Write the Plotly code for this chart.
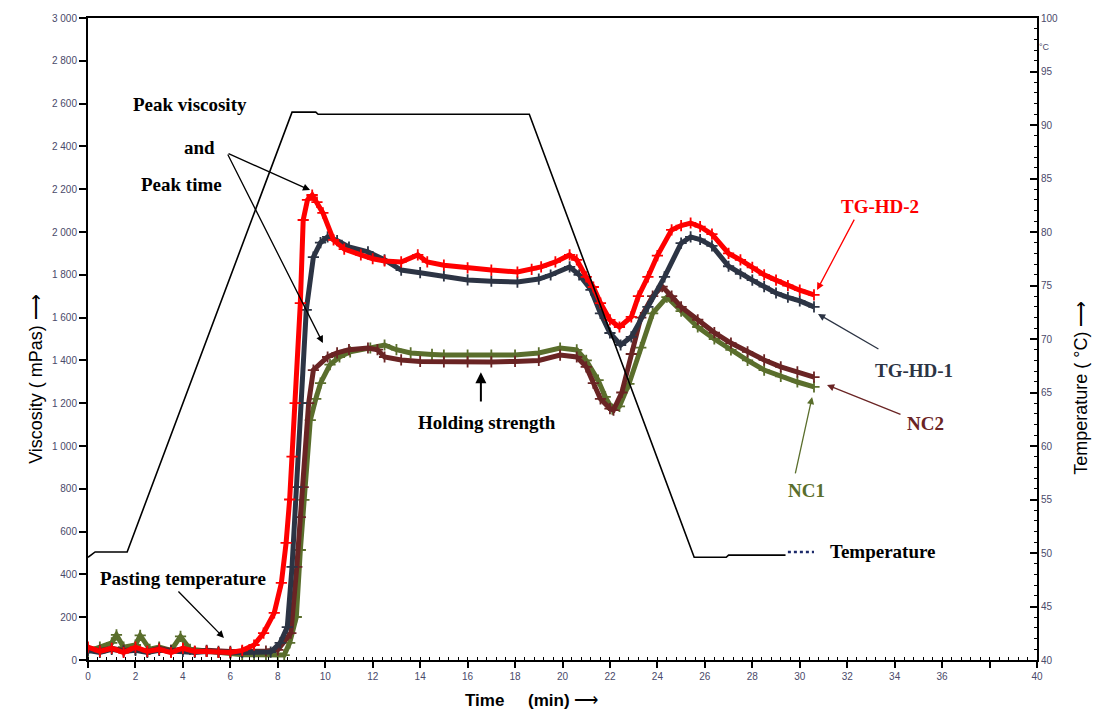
import plotly.graph_objects as go

# ---------------- data ----------------
t_hd2 = [0, 0.5, 1, 1.5, 2, 2.5, 3, 3.5, 4, 4.5, 5, 5.5, 6, 6.5, 7, 7.4, 7.85, 8.15, 8.35,
         8.5, 8.6, 8.73, 8.95, 9.07, 9.25, 9.45, 9.65, 9.9, 10.35, 10.8, 11.5, 12, 12.5,
         13.2, 13.9, 14.3, 15, 16, 17, 18.1, 18.7, 19.1, 19.7, 20.3, 20.6, 21, 21.3, 21.6,
         22, 22.4, 22.9, 23.2, 23.6, 24, 24.6, 25, 25.4, 25.8, 26.3, 27, 27.5, 28, 28.5,
         29, 29.5, 30, 30.6]
v_hd2 = [60, 40, 55, 35, 60, 40, 50, 35, 55, 40, 40, 35, 35, 45, 70, 126, 220, 360, 547,
         750, 950, 1200, 1668, 2056, 2150, 2173, 2140, 2089, 1963, 1920, 1893, 1875, 1865,
         1860, 1893, 1860, 1845, 1832, 1822, 1813, 1825, 1837, 1860, 1893, 1870, 1790, 1743, 1668,
         1589, 1556, 1603, 1700, 1790, 1890, 2010, 2030, 2042, 2025, 1990, 1900, 1870, 1835, 1800,
         1775, 1750, 1728, 1706]

t_hd1 = [0, 0.5, 1, 1.5, 2, 2.5, 3, 3.5, 4, 4.5, 5, 5.5, 6, 6.5, 7, 7.7, 8.1, 8.4, 8.6,
         8.8, 9.0, 9.2, 9.5, 9.8, 10.1, 10.5, 11, 11.8, 12.5, 13.2, 14, 15, 16, 17, 18.1,
         19, 19.5, 20.3, 20.7, 21.2, 21.6, 22, 22.45, 22.9, 23.6, 24.3, 25, 25.4, 25.8,
         26.3, 27, 27.5, 28, 28.5, 29, 29.5, 30, 30.6]
v_hd1 = [45, 35, 50, 40, 45, 35, 45, 40, 40, 35, 40, 35, 35, 35, 35, 37, 80, 154, 435,
         808, 1200, 1636, 1883, 1950, 1977, 1960, 1930, 1907, 1870, 1822, 1810, 1795, 1776, 1770, 1766,
         1780, 1799, 1837, 1800, 1730, 1620, 1528, 1472, 1510, 1650, 1790, 1948, 1977, 1965,
         1935, 1840, 1805, 1775, 1745, 1715, 1695, 1678, 1650]

t_nc2 = [0, 0.5, 1, 1.5, 2, 2.5, 3, 3.5, 4, 4.5, 5, 5.5, 6, 6.5, 7, 7.5, 8.0, 8.55, 8.8,
         8.95, 9.07, 9.3, 9.5, 10.1, 10.5, 11, 11.8, 12.2, 12.5, 13.2, 14, 15, 16, 17, 18,
         19, 19.9, 20.6, 21, 21.3, 21.6, 22, 22.15, 22.5, 22.9, 23.3, 23.8, 24.2, 24.6, 25,
         25.7, 26.4, 27.1, 27.8, 28.5, 29.2, 29.9, 30.6]
v_nc2 = [50, 45, 55, 45, 50, 40, 55, 45, 50, 40, 45, 40, 40, 40, 40, 42, 47, 126, 435,
         668, 808, 1200, 1355, 1416, 1435, 1450, 1458, 1450, 1416, 1402, 1395, 1393, 1393, 1393, 1395,
         1400, 1425, 1416, 1370, 1294, 1220, 1175, 1168, 1250, 1430, 1600, 1700, 1745, 1700, 1650,
         1590, 1530, 1481, 1440, 1402, 1370, 1346, 1322]

t_nc1 = [0, 0.5, 1, 1.2, 1.5, 2, 2.2, 2.6, 3, 3.5, 3.9, 4.3, 5, 5.5, 6, 6.5, 7, 7.5, 8,
         8.27, 8.5, 8.78, 8.95, 9.1, 9.37, 9.6, 9.8, 10.2, 10.6, 11.05, 11.9, 12.5, 13,
         13.6, 14.5, 15, 16, 17, 18, 19, 19.9, 20.6, 21, 21.5, 21.8, 22.1, 22.4, 22.8,
         23.3, 23.8, 24.4, 25, 25.7, 26.4, 27.1, 27.8, 28.5, 29.2, 29.9, 30.6]
v_nc1 = [40, 60, 80, 117, 60, 70, 115, 50, 60, 45, 110, 50, 40, 35, 30, 25, 25, 25, 25,
         23, 80, 201, 514, 748, 1121, 1220, 1294, 1380, 1416, 1440, 1458, 1472, 1450,
         1435, 1428, 1425, 1425, 1425, 1425, 1435, 1458, 1449, 1400, 1308, 1230, 1172, 1185, 1290,
         1460, 1620, 1696, 1630, 1556, 1500, 1449, 1400, 1355, 1325, 1299, 1276]

t_temp = [0, 0.3, 1.65, 8.6, 9.6, 9.7, 18.6, 25.55, 26.9, 27.0, 29.4]
v_temp = [49.6, 50.1, 50.1, 91.2, 91.2, 91.0, 91.0, 49.6, 49.6, 49.8, 49.8]

visc_ticks = list(range(0, 3001, 200))
visc_ticktext = ["0", "200", "400", "600", "800", "1 000", "1 200", "1 400", "1 600",
                 "1 800", "2 000", "2 200", "2 400", "2 600", "2 800", "3 000"]
temp_ticks = list(range(40, 101, 5))
time_ticks = list(range(0, 41, 2))
time_ticktext = [str(v) if v != 38 else "" for v in time_ticks]

# ---------------- styles ----------------
C_RED = "#ff0000"
C_NAVY = "#2c3444"
C_BROWN = "#6a2424"
C_GREEN = "#5a6e2c"
SERIF = "Liberation Serif"
SANS = "Liberation Sans"
TICKFONT = dict(family=SANS, size=10, color="#4a4a6a")
LBL = 19

fig = go.Figure()


def add_series(t, v, color):
    fig.add_trace(go.Scatter(
        x=t, y=v, mode="lines+markers",
        line=dict(color=color, width=5),
        marker=dict(symbol="cross-thin", size=8, color=color,
                    line=dict(color=color, width=1.8)),
        showlegend=False, hoverinfo="skip"))


add_series(t_nc1, v_nc1, C_GREEN)
add_series(t_nc2, v_nc2, C_BROWN)
add_series(t_hd1, v_hd1, C_NAVY)
add_series(t_hd2, v_hd2, C_RED)

fig.add_trace(go.Scatter(x=t_temp, y=v_temp, yaxis="y2", mode="lines",
                         line=dict(color="black", width=1.6),
                         showlegend=False, hoverinfo="skip"))
# legend sample for temperature
fig.add_trace(go.Scatter(x=[29.5, 30.6], y=[50.1, 50.1], yaxis="y2", mode="lines",
                         line=dict(color="#1c2a6a", width=2.5, dash="dot"),
                         showlegend=False, hoverinfo="skip"))

fig.update_layout(
    width=1108, height=714,
    margin=dict(l=88, r=71, t=18, b=54),
    paper_bgcolor="white", plot_bgcolor="white",
    xaxis=dict(range=[0, 40], tickvals=time_ticks, ticktext=time_ticktext,
               ticks="outside", ticklen=6, tickwidth=2, tickcolor="black",
               minor=dict(dtick=0.4, ticks="inside", ticklen=3, tickwidth=1.2, tickcolor="black"),
               showline=True, linewidth=2, linecolor="black", mirror=True,
               showgrid=False, zeroline=False, tickfont=TICKFONT),
    xaxis3=dict(range=[0, 40], overlaying="x", tickvals=time_ticks, ticktext=[""] * len(time_ticks),
                ticks="inside", ticklen=6, tickwidth=2, tickcolor="black",
                showline=False, showgrid=False, zeroline=False, anchor="y"),
    yaxis=dict(range=[0, 3000], tickvals=visc_ticks, ticktext=visc_ticktext,
               ticks="outside", ticklen=7, tickwidth=2, tickcolor="black",
               showline=True, linewidth=2, linecolor="black",
               showgrid=False, zeroline=False, tickfont=TICKFONT),
    yaxis3=dict(range=[0, 3000], overlaying="y", side="left", anchor="x",
                tickvals=visc_ticks, ticktext=[""] * len(visc_ticks),
                ticks="inside", ticklen=7, tickwidth=2, tickcolor="black",
                showline=False, showgrid=False, zeroline=False),
    yaxis2=dict(range=[40, 100], overlaying="y", side="right", anchor="x",
                tickvals=temp_ticks, ticks="inside", ticklen=7, tickwidth=2, tickcolor="black",
                minor=dict(dtick=1, ticks="inside", ticklen=3, tickwidth=1.2, tickcolor="black"),
                showline=True, linewidth=2, linecolor="black",
                showgrid=False, zeroline=False, tickfont=TICKFONT),
)

ann = []


def text(x, y, s, color="black", size=LBL, bold=True, family=SERIF, xref="x", yref="y"):
    ann.append(dict(x=x, y=y, xref=xref, yref=yref, text=("<b>%s</b>" % s) if bold else s,
                    showarrow=False, font=dict(family=family, size=size, color=color)))


def arrow(x0, y0, x1, y1, color="black", width=1.3):
    ann.append(dict(x=x1, y=y1, ax=x0, ay=y0, xref="x", yref="y", axref="x", ayref="y",
                    text="", showarrow=True, arrowhead=2, arrowsize=1.1,
                    arrowwidth=width, arrowcolor=color))


text(4.3, 2598, "Peak viscosity")
text(4.72, 2397, "and")
text(3.96, 2220, "Peak time")
arrow(5.86, 2369, 9.36, 2196)
arrow(5.86, 2369, 9.9, 1481)

text(4.0, 383, "Pasting temperature")
arrow(3.75, 327, 5.73, 103)

text(16.8, 1112, "Holding strength")
arrow(16.56, 1201, 16.56, 1345, width=2)

text(33.4, 2117, "TG-HD-2", color=C_RED)
arrow(32.33, 2065, 30.73, 1729, color=C_RED)
text(34.8, 1355, "TG-HD-1", color=C_NAVY)
arrow(33.38, 1449, 30.77, 1617, color=C_NAVY)
text(35.3, 1107, "NC2", color=C_BROWN)
arrow(34.31, 1145, 31.15, 1285, color=C_BROWN)
text(30.3, 794, "NC1", color=C_GREEN)
arrow(29.8, 865, 30.52, 1229, color=C_GREEN)
text(33.5, 509, "Temperature")

# axis titles
ann.append(dict(x=-0.0674, y=0.438, xref="paper", yref="paper", text="Viscosity ( mPas) ⟶",
                textangle=-90, showarrow=False, font=dict(family=SANS, size=18, color="black")))
ann.append(dict(x=1.059, y=0.424, xref="paper", yref="paper", text="Temperature ( °C) ⟶",
                textangle=-90, showarrow=False, font=dict(family=SANS, size=18, color="black")))
ann.append(dict(x=0.467, y=-0.063, xref="paper", yref="paper", yanchor="middle",
                text="<b>Time</b>     <b>(min)</b> ⟶",
                showarrow=False, font=dict(family=SANS, size=17, color="black")))
ann.append(dict(x=1.016, y=0.966, xref="paper", yref="paper", text="°C",
                showarrow=False, font=dict(family=SANS, size=9, color="#4a4a6a")))

fig.update_layout(annotations=ann)
fig.write_html("out.html")
